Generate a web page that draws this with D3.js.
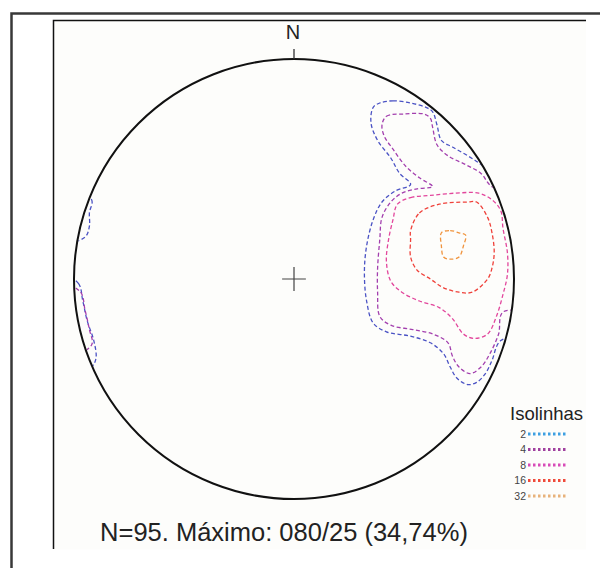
<!DOCTYPE html>
<html>
<head>
<meta charset="utf-8">
<script src="https://cdn.jsdelivr.net/npm/d3@7"></script>
<style>
  body { margin: 0; background: #fff; }
  svg { display: block; font-family: "Liberation Sans", Arial, sans-serif; }
</style>
</head>
<body>
<div id="chart"></div>
<script>
// contour levels (%) and their colours
const levels = [2, 4, 8, 16, 32];
const levelColors = ["#4a52c4", "#a33fae", "#e2469c", "#ef413a", "#f0943e"];
const swatchColors = ["#3d9fe2", "#a0409f", "#d84bb8", "#ef4a3a", "#e8b27a"];

// summary numbers for the caption
const nPoles = 95;
const maxTrend = "080";
const maxPlunge = 25;
const maxPct = "34,74";

// contour lines, in % of the net radius (x = east, y = north)
// parts that go past the primitive circle get clipped away
const contour2Main = [[39,80],[45,81],[53,80],[60,78],[63,76],[65,70],[67,63],[72,60],[79,56],[85,52],[91,46],
  [112,36],[116,-23],[94,-28],[90,-37],[87,-43],[83,-47],[79,-48],[74,-45],[71,-40],[68,-34],[62,-29],[53,-26],
  [42,-24],[36,-20],[33,-10],[32,3],[33,15],[36,27],[40,35],[46,40],[53,43],[48,48],[44,55],[38,63],[35,71],[36,78]];
const contour2UpperLeft = [[-102,40],[-92,36],[-93,30],[-93,24],[-95,19],[-104,17]];
const contour2LowerLeft = [[-106,2],[-98,-2],[-96,-10],[-94,-19],[-91,-28],[-90,-36],[-92,-40],[-106,-48]];
const contour4Main = [[40,70],[42,74],[50,75],[59,75],[62,73],[63,69],[65,61],[70,56],[78,52],[85,48],[90,42],
  [112,36],[116,-14],[95,-15],[93,-25],[89,-34],[85,-40],[80,-43],[75,-40],[72,-35],[70,-29],[63,-25],[54,-23],
  [44,-21],[39,-17],[38,-6],[38,5],[39,18],[40,28],[44,35],[49,39],[56,41],[63,42],[57,46],[51,51],[45,59],[41,65]];
const contour4LowerLeft = [[-104,-3],[-97,-6],[-95,-14],[-93,-23],[-92,-30],[-106,-36]];
const contour8 = [[47,34],[53,37],[62,38],[73,39],[84,39],[90,36],[94,31],[95,23],[97,12],[97,2],[95,-7],[92,-17],
  [88,-25],[82,-27],[77,-25],[72,-18],[66,-13],[57,-10],[49,-6],[44,-1],[42,8],[43,18],[45,27]];
const contour16 = [[53,22],[57,30],[66,34],[79,35],[83,35],[88,28],[90,21],[91,12],[90,5],[88,0],[81,-6],[75,-6],
  [68,-4],[62,0],[56,4],[53,10],[53,18]];
const contour32 = [[67,21],[71,22],[75,21],[78,20],[77,15],[75,10],[71,9],[68,10],[67,15]];

class StereoNet {

  constructor(_config) {
    this.config = {
      parentElement: _config.parentElement,
      width: 600,
      height: 568,
      cx: 294,
      cy: 279,
      radius: 220
    }
    this.contours = [
      { level: 2, pts: contour2Main },
      { level: 2, pts: contour2UpperLeft },
      { level: 2, pts: contour2LowerLeft },
      { level: 4, pts: contour4Main },
      { level: 4, pts: contour4LowerLeft },
      { level: 8, pts: contour8 },
      { level: 16, pts: contour16 },
      { level: 32, pts: contour32 }
    ];
    this.initVis();
  }

  initVis() {
    let vis = this;
    const c = vis.config;

    vis.svg = d3.select(c.parentElement).append('svg')
      .attr('width', c.width)
      .attr('height', c.height);

    // frames round the figure (only top + left edges show in the crop)
    vis.svg.append('rect')
      .attr('x', 53).attr('y', 20.5).attr('width', 533).attr('height', 529)
      .attr('fill', '#fdfdfb');
    vis.svg.append('path')
      .attr('d', 'M11.5,568V13.5H600')
      .attr('fill', 'none').attr('stroke', '#383838').attr('stroke-width', 2.5);
    vis.svg.append('path')
      .attr('d', 'M53.5,549V20.5H586')
      .attr('fill', 'none').attr('stroke', '#111').attr('stroke-width', 1.5);

    // net coords (% of radius) -> pixels
    vis.xScale = d3.scaleLinear().domain([-100, 100]).range([c.cx - c.radius, c.cx + c.radius]);
    vis.yScale = d3.scaleLinear().domain([-100, 100]).range([c.cy + c.radius, c.cy - c.radius]);
    vis.colorScale = d3.scaleOrdinal().domain(levels).range(levelColors);

    vis.svg.append('clipPath').attr('id', 'netClip')
      .append('circle')
      .attr('cx', vis.xScale(0)).attr('cy', vis.yScale(0))
      .attr('r', vis.xScale(100) - vis.xScale(0) - 1);

    vis.line = d3.line()
      .x(d => vis.xScale(d[0]))
      .y(d => vis.yScale(d[1]))
      .curve(d3.curveCatmullRomClosed.alpha(0.5));

    vis.svg.append('g')
      .attr('clip-path', 'url(#netClip)')
      .selectAll('path')
      .data(vis.contours)
      .join('path')
        .attr('d', d => vis.line(d.pts))
        .attr('fill', 'none')
        .attr('stroke', d => vis.colorScale(d.level))
        .attr('stroke-width', 1.3)
        .attr('stroke-dasharray', '4,2.5');

    // primitive circle
    vis.svg.append('circle')
      .attr('cx', vis.xScale(0)).attr('cy', vis.yScale(0))
      .attr('r', vis.xScale(100) - vis.xScale(0))
      .attr('fill', 'none').attr('stroke', '#111').attr('stroke-width', 2);

    // north tick + label
    vis.svg.append('line')
      .attr('x1', vis.xScale(0)).attr('x2', vis.xScale(0))
      .attr('y1', vis.yScale(100) - 10).attr('y2', vis.yScale(100))
      .attr('stroke', '#333').attr('stroke-width', 1.3);
    vis.svg.append('text')
      .attr('x', vis.xScale(0) - 1).attr('y', vis.yScale(100) - 20)
      .attr('text-anchor', 'middle')
      .attr('font-size', 20).attr('fill', '#222')
      .text('N');

    // centre cross
    const arm = 5.4;
    vis.svg.append('path')
      .attr('d', `M${vis.xScale(-arm)},${vis.yScale(0)}H${vis.xScale(arm)}M${vis.xScale(0)},${vis.yScale(-arm)}V${vis.yScale(arm)}`)
      .attr('stroke', '#444').attr('stroke-width', 1.2);

    vis.renderLegend();

    // caption under the net
    vis.svg.append('text')
      .attr('x', 284).attr('y', 541)
      .attr('text-anchor', 'middle')
      .attr('font-size', 25.5).attr('fill', '#222')
      .text(`N=${nPoles}. Máximo: ${maxTrend}/${maxPlunge} (${maxPct}%)`);
  }

  renderLegend() {
    let vis = this;

    vis.svg.append('text')
      .attr('x', 510).attr('y', 420)
      .attr('font-size', 18.5).attr('fill', '#222')
      .text('Isolinhas');

    const rowY = d3.scalePoint().domain(levels).range([434, 496]);
    const swatch = d3.scaleOrdinal().domain(levels).range(swatchColors);

    const rows = vis.svg.append('g').selectAll('g')
      .data(levels)
      .join('g')
        .attr('transform', d => `translate(0,${rowY(d)})`);

    rows.append('text')
      .attr('x', 526).attr('y', 3.5)
      .attr('text-anchor', 'end')
      .attr('font-size', 10.5).attr('fill', '#444')
      .text(d => d);

    rows.append('line')
      .attr('x1', 528).attr('x2', 566)
      .attr('stroke', d => swatch(d))
      .attr('stroke-width', 3)
      .attr('stroke-dasharray', '2.5,2.5');
  }
}

new StereoNet({ parentElement: '#chart' });
</script>
</body>
</html>
